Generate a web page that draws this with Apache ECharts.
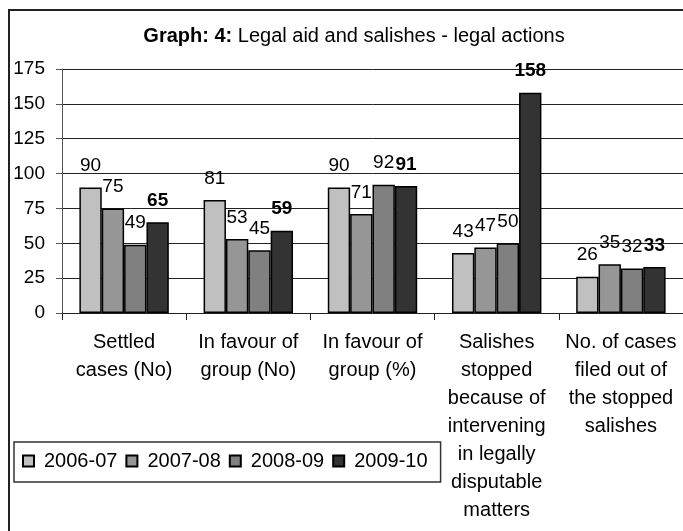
<!DOCTYPE html>
<html lang="en">
<head>
    <meta charset="UTF-8">
    <script src="https://cdn.jsdelivr.net/npm/echarts@6/dist/echarts.min.js"></script>
    <title>Graph 4</title>
</head>
<body style="margin:0;background:#fff">
    <div id="chart" style="width:683px;height:531px;"></div>

    <script type="text/javascript">
        // categories and values
        var categories = [
            'Settled\ncases (No)',
            'In favour of\ngroup (No)',
            'In favour of\ngroup (%)',
            'Salishes\nstopped\nbecause of\nintervening\nin legally\ndisputable\nmatters',
            'No. of cases\nfiled out of\nthe stopped\nsalishes'
        ];
        var years = ['2006-07', '2007-08', '2008-09', '2009-10'];
        var v2006 = [90, 81, 90, 43, 26];
        var v2007 = [75, 53, 71, 47, 35];
        var v2008 = [49, 45, 92, 50, 32];
        var v2009 = [65, 59, 91, 158, 33];
        var yTicks = [0, 175, 25];   // min, max, step

        var colors = ['#c0c0c0', '#969696', '#808080', '#333333'];
        var font = '"Liberation Sans", Arial, sans-serif';

        function barSeries(name, values, color, bold) {
            return {
                name: name,
                type: 'bar',
                data: values,
                barGap: '0%',
                barCategoryGap: '28%',
                itemStyle: { color: color, borderColor: '#000', borderWidth: 1.5 },
                label: {
                    show: true,
                    position: 'top',
                    distance: 12,
                    fontFamily: font,
                    fontSize: 19,
                    color: '#000',
                    fontWeight: bold ? 'bold' : 'normal'
                }
            };
        }

        var chart = echarts.init(document.getElementById('chart'));
        chart.setOption({
            animation: false,
            backgroundColor: '#fff',
            textStyle: { fontFamily: font },
            title: {
                text: '{b|Graph: 4:} Legal aid and salishes - legal actions',
                left: 349,
                textAlign: 'center',
                top: 21,
                textStyle: {
                    fontFamily: font,
                    fontSize: 20,
                    fontWeight: 'normal',
                    color: '#000',
                    rich: { b: { fontFamily: font, fontSize: 20, fontWeight: 'bold', color: '#000' } }
                }
            },
            legend: {
                left: 14,
                top: 442,
                orient: 'horizontal',
                padding: [9, 13, 11, 8],
                borderColor: '#333',
                borderWidth: 1.5,
                itemWidth: 11,
                itemHeight: 11,
                itemGap: 8,
                icon: 'rect',
                textStyle: { fontFamily: font, fontSize: 20, color: '#000', padding: [0, 0, 0, 5] },
                data: years
            },
            grid: { left: 62, top: 69, width: 625, height: 244 },
            xAxis: {
                type: 'category',
                data: categories,
                axisLine: { lineStyle: { color: '#222', width: 1 } },
                axisTick: { show: true, length: 7, lineStyle: { color: '#222' } },
                axisLabel: {
                    interval: 0,
                    margin: 15,
                    fontFamily: font,
                    fontSize: 20,
                    lineHeight: 28,
                    color: '#000',
                    align: 'center'
                },
                splitLine: { show: false }
            },
            yAxis: {
                type: 'value',
                min: yTicks[0],
                max: yTicks[1],
                interval: yTicks[2],
                axisLine: { show: true, lineStyle: { color: '#555', width: 1 } },
                axisTick: { show: true, length: 6, lineStyle: { color: '#555' } },
                axisLabel: { margin: 17, fontFamily: font, fontSize: 19, color: '#000' },
                splitLine: { show: true, lineStyle: { color: '#222', width: 1 } }
            },
            graphic: [{
                type: 'rect',
                shape: { x: 9, y: 10, width: 720, height: 600 },
                style: { fill: null, stroke: '#222', lineWidth: 2 },
                silent: true,
                z: 100
            }],
            series: [
                barSeries(years[0], v2006, colors[0], false),
                barSeries(years[1], v2007, colors[1], false),
                barSeries(years[2], v2008, colors[2], false),
                barSeries(years[3], v2009, colors[3], true)
            ]
        });
    </script>
</body>
</html>
